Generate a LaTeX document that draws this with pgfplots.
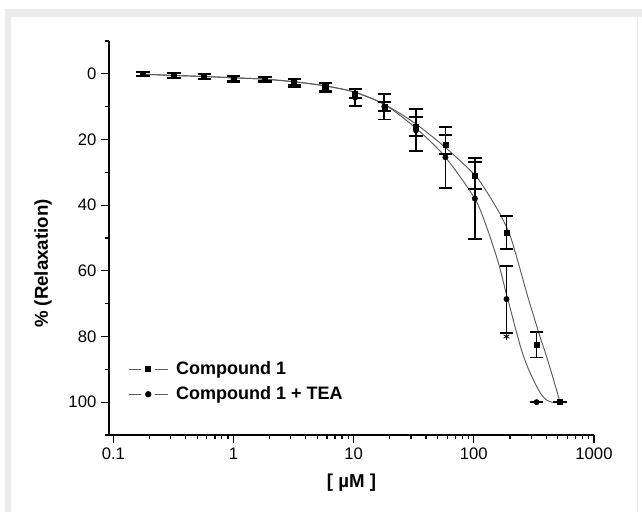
\documentclass[border=0pt]{standalone}
\usepackage{fontspec}
\setmainfont{Liberation Sans}
\usepackage{pgfplots}
\pgfplotsset{compat=1.18}
\usepackage{pgfplotstable}
\definecolor{framegray}{HTML}{EBEBEB}
\definecolor{curvegray}{HTML}{5A5A5A}

\pgfplotstableread{
x     c1    c1e   tea   teae
0.176 0.0   0.6   0.0   0.6
0.32  0.5   0.6   0.5   0.7
0.57  0.8   0.7   0.8   0.8
1.0   1.4   0.8   1.5   1.0
1.83  1.6   0.7   1.7   0.9
3.2   2.5   1.0   2.7   1.2
5.8   4.0   1.3   4.1   1.4
10.3  6.0   1.3   7.2   2.6
18    9.9   1.3   10.0  3.9
33    16.0  2.8   17.2  6.4
58    21.5  2.8   25.4  9.3
102   31.0  4.2   38.0  12.3
187   48.4  5.0   68.6  10.2
333   82.5  3.9   100   0
521   100   0     100   0
}\data

\begin{document}
\begin{tikzpicture}
\useasboundingbox (0,0) rectangle (481.5pt,384pt);
\fill[framegray] (3.75pt,0) rectangle (481.5pt,377.25pt);
\fill[white] (8.25pt,0) rectangle (481.5pt,371.25pt);
\draw[framegray, line width=0.75pt] (477.75pt,0) -- (477.75pt,371.25pt);
\begin{axis}[
  at={(81.75pt,57.75pt)}, anchor=south west,
  scale only axis, width=363.75pt, height=295.5pt,
  xmode=log, xmin=0.092, xmax=1000,
  ymin=-10, ymax=110, y dir=reverse,
  axis x line*=bottom, axis y line*=left,
  axis line style={line width=1pt, black},
  xtick={0.1,1,10,100,1000}, xticklabels={0.1,1,10,100,1000},
  ytick={0,20,40,60,80,100},
  minor ytick={-10,10,30,50,70,90,110},
  tick align=outside,
  major tick length=6pt, minor tick length=3pt,
  every tick/.style={black, line width=0.9pt},
  tick label style={font=\fontsize{12.5}{14}\selectfont},
  /pgf/number format/assume math mode=true,
  xlabel={\bfseries [ µM ]},
  xlabel style={font=\fontsize{14}{16}\selectfont, at={(axis description cs:0.5,0)}, anchor=center, yshift=-36pt},
  ylabel={\bfseries \% (Relaxation)},
  ylabel style={font=\fontsize{14}{16}\selectfont, at={(axis description cs:-0.136,0.435)}, anchor=center},
  legend image code/.code={
    \draw[#1, mark=none] (0pt,0pt) -- (9pt,0pt);
    \draw[#1, mark=none] (20pt,0pt) -- (29.2pt,0pt);
    \draw[#1, draw=none] plot coordinates {(14.6pt,0pt)};},
  legend style={at={(axis description cs:0.031,0.197)}, anchor=north west, draw=none, fill=none,
    font=\bfseries\fontsize{13.5}{15}\selectfont, nodes={inner sep=1pt}, row sep=5.5pt,
    /tikz/every even column/.append style={column sep=0pt}},
  legend cell align=left,
  clip=false,
]
\addlegendimage{curvegray, line width=0.7pt, mark=square*, mark size=1.9pt, mark options={black, solid}}
\addlegendentry{\hspace{5pt}Compound 1}
\addlegendimage{curvegray, line width=0.7pt, mark=*, mark size=2pt, mark options={black, solid}}
\addlegendentry{\hspace{5pt}Compound 1 + TEA}

% fitted curves (traced)
\addplot[curvegray, line width=0.7pt, smooth, forget plot] coordinates {
(0.178,0.1) (0.316,0.5) (0.562,0.8) (1,1.2) (1.778,1.6) (3.162,2.4) (5.623,3.6) (10,5.5) (17.78,9.2) (31.62,14.8) (56.23,22) (100,30.5) (125.9,35.5) (158.5,41.5) (177.8,45) (199.5,49) (223.9,55) (251.2,61.5) (281.8,68) (316.2,74) (354.8,80) (398.1,85.5) (446.7,91.5) (489.8,96.5) (521,100)};
\addplot[curvegray, line width=0.7pt, smooth, forget plot] coordinates {
(0.178,0.1) (0.316,0.5) (0.562,0.8) (1,1.2) (1.778,1.6) (3.162,2.4) (5.623,3.6) (10,5.5) (17.78,9.2) (31.62,16) (56.23,24.8) (100,37.5) (125.9,46) (158.5,57) (177.8,64) (186.2,67) (199.5,71) (223.9,78) (251.2,84.5) (281.8,89.5) (316.2,93.5) (354.8,97) (398.1,99.2) (446.7,100) (521,100)};

% data with error bars
\addplot[black, only marks, mark=square*, mark size=1.9pt, forget plot,
  error bars/.cd, y dir=both, y explicit,
  error bar style={line width=1.3pt, black},
  error mark options={rotate=90, mark size=5pt, line width=1.4pt, black}]
  table[x=x, y=c1, y error=c1e] {\data};
\addplot[black, only marks, mark=*, mark size=2pt, forget plot,
  error bars/.cd, y dir=both, y explicit,
  error bar style={line width=1.3pt, black},
  error mark options={rotate=90, mark size=5pt, line width=1.4pt, black}]
  table[x=x, y=tea, y error=teae] {\data};
\addplot[black, only marks, mark=asterisk, mark size=2.5pt, line width=0.6pt, forget plot] coordinates {(187,80)};
\end{axis}
\end{tikzpicture}
\end{document}
